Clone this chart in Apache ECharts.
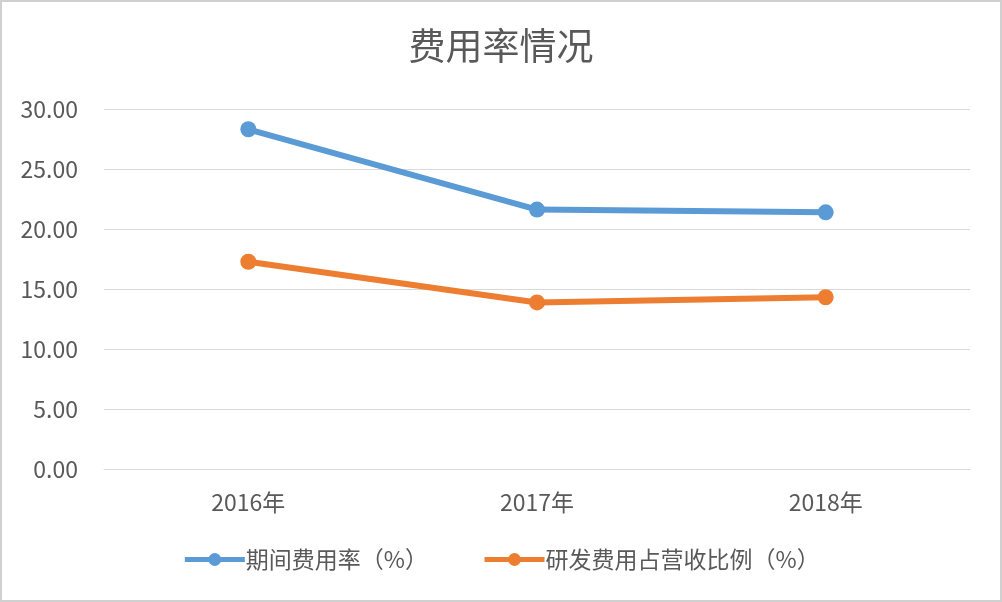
<!DOCTYPE html>
<html><head><meta charset="utf-8">
<script src="https://cdn.jsdelivr.net/npm/echarts@6/dist/echarts.min.js"></script>
<style>html,body{margin:0;padding:0;background:#fff}#c{width:1002px;height:602px;box-sizing:border-box;border:2px solid #d0d0d0}</style>
</head><body><div id="c"></div>
<script>
const categories = ['2016年', '2017年', '2018年'];
const seriesNames = ['期间费用率（%）', '研发费用占营收比例（%）'];
const periodExpenseRate = [28.31, 21.62, 21.39];
const rdRatio = [17.27, 13.88, 14.31];
const yTicks = { min: 0, max: 30, interval: 5 };

const chart = echarts.init(document.getElementById('c'));
const font = '"Noto Sans CJK SC", "Microsoft YaHei", sans-serif';
chart.setOption({
  backgroundColor: '#fff',
  animation: false,
  title: { text: '费用率情况', left: 'center', top: 20,
    textStyle: { fontFamily: font, fontSize: 37, fontWeight: 'normal', color: '#595959' } },
  grid: { left: 102, right: 30, top: 107, bottom: 131 },
  legend: { bottom: 24, left: 'center', itemWidth: 60, itemHeight: 16, itemGap: 54,
    lineStyle: { width: 5 },
    textStyle: { fontFamily: font, fontSize: 23, color: '#595959', padding: [0, 0, 0, -4] },
    data: seriesNames },
  xAxis: { type: 'category', data: categories,
    axisLine: { lineStyle: { color: '#d9d9d9', width: 1 } },
    axisTick: { show: false },
    axisLabel: { fontFamily: font, fontSize: 23, color: '#595959', margin: 22 } },
  yAxis: { type: 'value', min: yTicks.min, max: yTicks.max, interval: yTicks.interval,
    axisLine: { show: false }, axisTick: { show: false },
    splitLine: { lineStyle: { color: '#d9d9d9', width: 1 } },
    axisLabel: { fontFamily: font, fontSize: 23, color: '#595959', margin: 26,
      formatter: v => v.toFixed(2) } },
  series: [
    { name: seriesNames[0], type: 'line', data: periodExpenseRate, symbol: 'circle', symbolSize: 16,
      lineStyle: { width: 6, color: '#5B9BD5' }, itemStyle: { color: '#5B9BD5' } },
    { name: seriesNames[1], type: 'line', data: rdRatio, symbol: 'circle', symbolSize: 16,
      lineStyle: { width: 6, color: '#ED7D31' }, itemStyle: { color: '#ED7D31' } }
  ]
});
</script></body></html>
